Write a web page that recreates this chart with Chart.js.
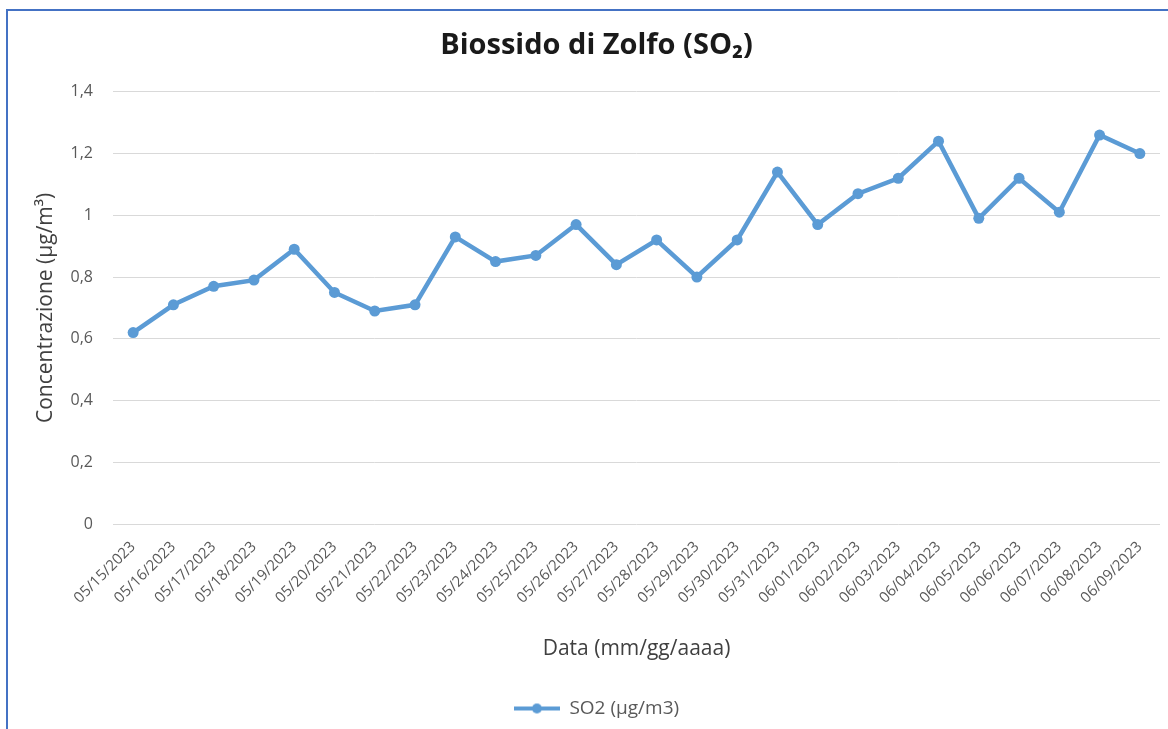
<!DOCTYPE html>
<html>
<head>
<meta charset="utf-8">
<script src="https://cdn.jsdelivr.net/npm/chart.js@4/dist/chart.umd.min.js"></script>
<style>
  html,body{margin:0;padding:0;background:#fff;overflow:hidden;}
  #frame{position:absolute;left:6px;top:9px;width:1200px;height:800px;border:2px solid #4472c4;}
  #chart{position:absolute;left:0;top:0;}
</style>
</head>
<body>
<div id="frame"></div>
<canvas id="chart" width="1168" height="729"></canvas>
<script>
const dates=['05/15/2023','05/16/2023','05/17/2023','05/18/2023','05/19/2023','05/20/2023','05/21/2023',
  '05/22/2023','05/23/2023','05/24/2023','05/25/2023','05/26/2023','05/27/2023','05/28/2023','05/29/2023',
  '05/30/2023','05/31/2023','06/01/2023','06/02/2023','06/03/2023','06/04/2023','06/05/2023','06/06/2023',
  '06/07/2023','06/08/2023','06/09/2023'];
const so2=[0.62,0.71,0.77,0.79,0.89,0.75,0.69,0.71,0.93,0.85,0.87,0.97,0.84,0.92,0.80,
  0.92,1.14,0.97,1.07,1.12,1.24,0.99,1.12,1.01,1.26,1.20];
const yTicks=[0,0.2,0.4,0.6,0.8,1,1.2,1.4];

const FONT='"Open Sans"';
const blue='#5b9bd5';

// legend symbol: line with a dot
const sym=document.createElement('canvas');
sym.width=46;sym.height=12;
const sc=sym.getContext('2d');
sc.strokeStyle=blue;sc.lineWidth=4;
sc.beginPath();sc.moveTo(0,6);sc.lineTo(46,6);sc.stroke();
sc.fillStyle=blue;sc.beginPath();sc.arc(23,6,5,0,Math.PI*2);sc.fill();

const ctx=document.getElementById('chart').getContext('2d');
const chart=new Chart(ctx,{
  type:'line',
  data:{
    labels:dates,
    datasets:[{
      label:'SO2 (µg/m3)',
      data:so2,
      borderColor:blue,backgroundColor:blue,
      borderWidth:4.5,pointRadius:5.5,pointBackgroundColor:blue,pointBorderWidth:0,
      tension:0,fill:false
    }]
  },
  options:{
    responsive:false,animation:false,devicePixelRatio:1,
    layout:{padding:{left:33,right:8,top:0,bottom:1}},
    plugins:{
      title:{display:true,text:'Biossido di Zolfo (SO₂)',color:'#1a1a1a',
        font:{family:FONT,size:29,weight:'bold'},padding:{top:28,bottom:29}},
      legend:{position:'bottom',
        labels:{usePointStyle:true,pointStyle:sym,pointStyleWidth:46,boxHeight:12,
          color:'#595959',font:{family:FONT,size:19},padding:14}},
      tooltip:{enabled:false}
    },
    scales:{
      x:{offset:true,
        afterFit:s=>{s.height=161;},
        grid:{display:false},border:{display:false},
        ticks:{color:'#595959',font:{family:FONT,size:15},minRotation:45,maxRotation:45,autoSkip:false,padding:6},
        title:{display:true,text:'Data (mm/gg/aaaa)',color:'#404040',font:{family:FONT,size:21},padding:{top:10,bottom:23}}
      },
      y:{min:0,max:1.4,
        afterFit:s=>{s.width=80;},
        afterBuildTicks:s=>{s.ticks=yTicks.map(v=>({value:v}));},
        grid:{color:'#d9d9d9',lineWidth:1,drawTicks:false},border:{display:false},
        ticks:{color:'#595959',font:{family:FONT,size:16},padding:20,
          callback:v=>String(Math.round(v*10)/10).replace('.',',')},
        title:{display:true,text:'Concentrazione (µg/m³)',color:'#404040',font:{family:FONT,size:21},padding:{top:0,bottom:6}}
      }
    }
  }
});
</script>
</body>
</html>
